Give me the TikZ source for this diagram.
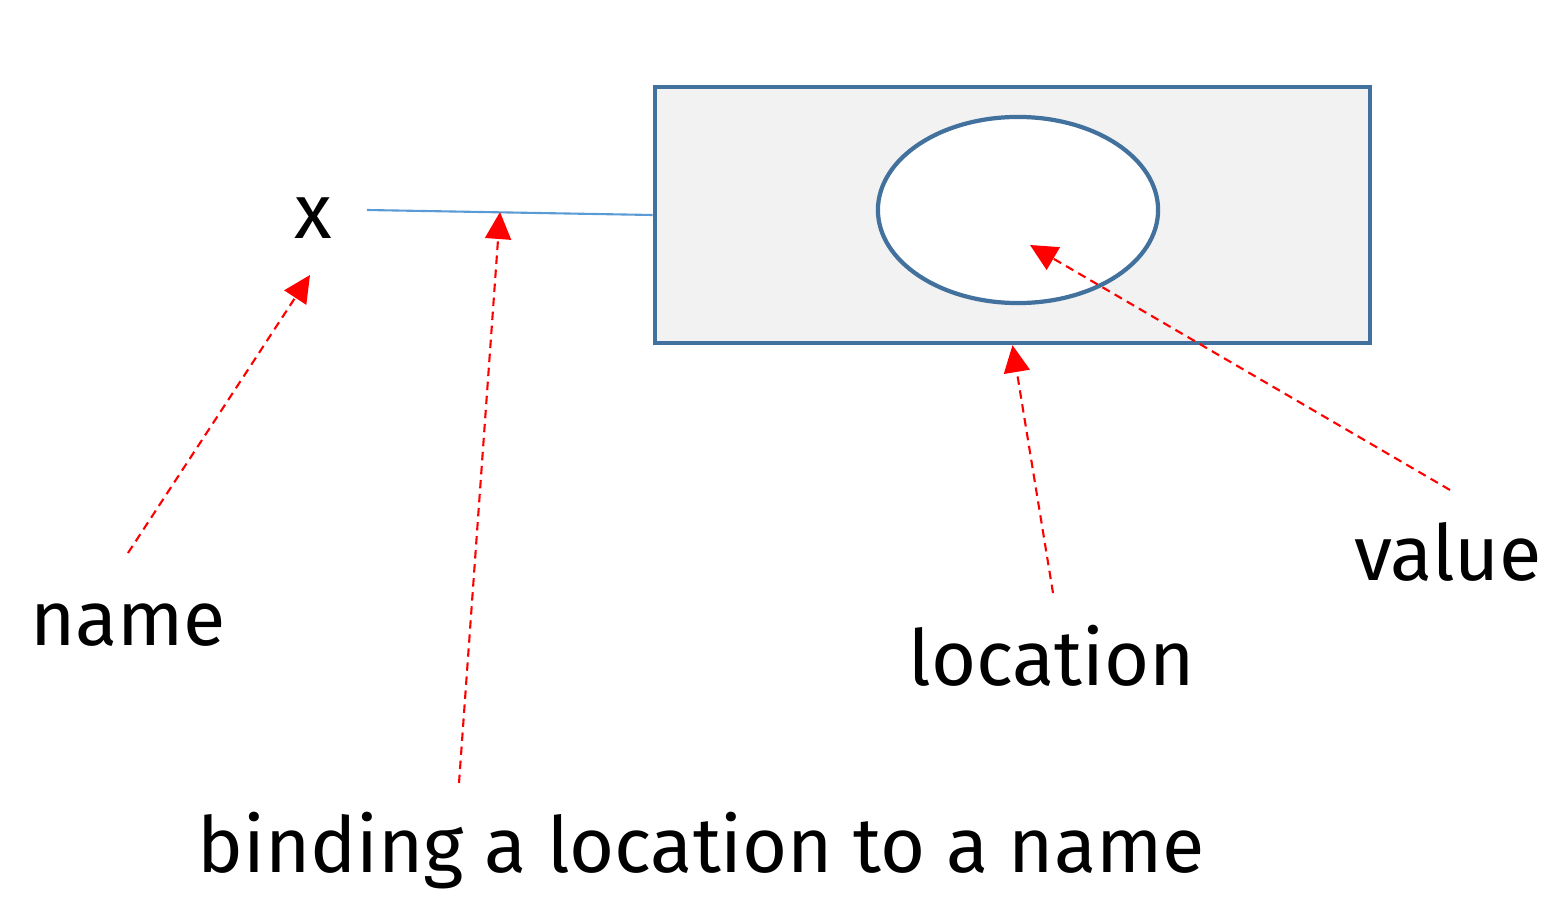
\documentclass[tikz,border=0pt]{standalone}
\usepackage{fontspec}
\setmainfont{Fira Sans}
\usetikzlibrary{arrows.meta,shapes.geometric}
\definecolor{boxblue}{HTML}{41719C}
\definecolor{linkblue}{HTML}{5B9BD5}
\definecolor{boxfill}{HTML}{F2F2F2}
\definecolor{arrred}{HTML}{FF0000}
\tikzset{
  lbl/.style={font=\fontsize{22}{26}\selectfont, anchor=base, inner sep=0pt, text=black},
  redarrow/.style={draw=arrred, line width=0.6pt, dash pattern=on 2.4pt off 1.6pt, -{Triangle[length=0.27cm,width=0.26cm]}},
}
\begin{document}
\begin{tikzpicture}[x=0.01cm,y=-0.01cm]
\useasboundingbox (0,0) rectangle (1554,906);
% box and ellipse
\node[draw=boxblue, fill=boxfill, line width=1.2pt, minimum width=7.15cm, minimum height=2.56cm, inner sep=0pt] (box) at (1012.5,215) {};
\node[ellipse, draw=boxblue, fill=white, line width=1.2pt, minimum width=2.8cm, minimum height=1.86cm, inner sep=0pt] (cell) at (1018,210) {};
% labels
\node[lbl] (xname) at (313,238) {x};
\node[lbl] (name) at (128,645) {name};
\node[lbl] (binding) at (701,872) {binding a location to a name};
\node[lbl] (location) at (1052,685) {location};
\node[lbl] (value) at (1448,580) {value};
% link
\coordinate (xlink) at (367,210);
\draw[linkblue, line width=0.6pt] (xlink) -- (box.west);
% arrow end points
\coordinate (nameTail) at (128,553);
\coordinate (nameHead) at (310,275);
\coordinate (bindTail) at (459,783);
\coordinate (bindHead) at (500,212);
\coordinate (locTail) at (1053,593);
\coordinate (valTail) at (1450,490);
\coordinate (valHead) at (1030,245);
\draw[redarrow] (nameTail) -- (nameHead);
\draw[redarrow] (bindTail) -- (bindHead);
\draw[redarrow] (locTail) -- (box.south);
\draw[redarrow] (valTail) -- (valHead);
\end{tikzpicture}
\end{document}
